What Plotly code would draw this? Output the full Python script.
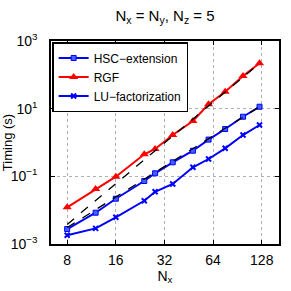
import plotly.graph_objects as go

N = [8, 12, 16, 24, 28, 36, 48, 60, 76, 98, 124]
hsc = [0.00277, 0.0084, 0.0218, 0.0728, 0.123, 0.26, 0.571, 1.22, 2.5, 5.78, 11.4]
rgf = [0.0121, 0.0422, 0.0975, 0.448, 0.643, 1.66, 4.31, 13.5, 31.7, 92, 219]
lu = [0.00181, 0.0029, 0.00615, 0.019, 0.035, 0.0593, 0.185, 0.325, 0.673, 1.66, 3.29]

# reference slopes O(N^4) through last RGF point, O(N^3) through last HSC point
ref_N = [8, 124]
ref4 = [rgf[-1] * (n / 124) ** 4 for n in ref_N]
ref3 = [hsc[-1] * (n / 124) ** 3 for n in ref_N]

xticks = [8, 16, 32, 64, 128]
yticks = [1e-3, 1e-1, 1e1, 1e3]
ytext = ["10<sup>−3</sup>", "10<sup>−1</sup>", "10<sup>1</sup>", "10<sup>3</sup>"]

fig = go.Figure()
fig.add_trace(go.Scatter(x=N, y=hsc, mode="lines+markers", name="HSC−extension",
                         line=dict(color="#0000ff", width=2),
                         marker=dict(symbol="square", size=5, color="#4060ff", line=dict(color="#0000ff", width=1))))
fig.add_trace(go.Scatter(x=N, y=rgf, mode="lines+markers", name="RGF",
                         line=dict(color="#ff0000", width=2),
                         marker=dict(symbol="triangle-up", size=8, color="#ff0000")))
fig.add_trace(go.Scatter(x=N, y=lu, mode="lines+markers", name="LU−factorization",
                         line=dict(color="#0000ff", width=2),
                         marker=dict(symbol="x-thin", size=5, line=dict(color="#0000ff", width=2))))
fig.add_trace(go.Scatter(x=ref_N, y=ref4, mode="lines", line=dict(color="black", width=1.3, dash="dash"), showlegend=False))
fig.add_trace(go.Scatter(x=ref_N, y=ref3, mode="lines", line=dict(color="black", width=1.3, dash="dash"), showlegend=False))

axis_common = dict(showline=True, linecolor="black", linewidth=1.5, mirror="ticks",
                   ticks="inside", ticklen=4, tickcolor="black", automargin=False,
                   showgrid=True, gridcolor="#b0b0b0", griddash="dot", gridwidth=1,
                   zeroline=False, tickfont=dict(size=14, color="black"))

fig.update_layout(
    width=291, height=291,
    margin=dict(l=51, r=12, t=41, b=47),
    paper_bgcolor="white", plot_bgcolor="white",
    font=dict(family="Liberation Sans, Arial, sans-serif", color="black"),
    title=dict(text="N<sub>x</sub> = N<sub>y</sub>, N<sub>z</sub> = 5", x=0.567, xanchor="center",
               y=0.945, yanchor="middle", yref="container", font=dict(size=15)),
    xaxis=dict(type="log", range=[0.803, 2.214], tickvals=xticks, ticktext=[str(v) for v in xticks],
               ticklabelstandoff=2,
               title=dict(text="N<sub>x</sub>", font=dict(size=14), standoff=0), **axis_common),
    yaxis=dict(type="log", range=[-3, 3], tickvals=yticks, ticktext=ytext,
               ticklabelstandoff=9,
               title=dict(text="Timing (s)", font=dict(size=13), standoff=2), **axis_common),
    legend=dict(x=0.005, y=0.995, xanchor="left", yanchor="top", bgcolor="white",
                bordercolor="black", borderwidth=1.5, font=dict(size=12), tracegroupgap=0,
                itemwidth=30),
)

fig.write_html("out.html", config={"displayModeBar": False},
               post_script="document.body.style.margin='0';document.body.style.padding='0';")
